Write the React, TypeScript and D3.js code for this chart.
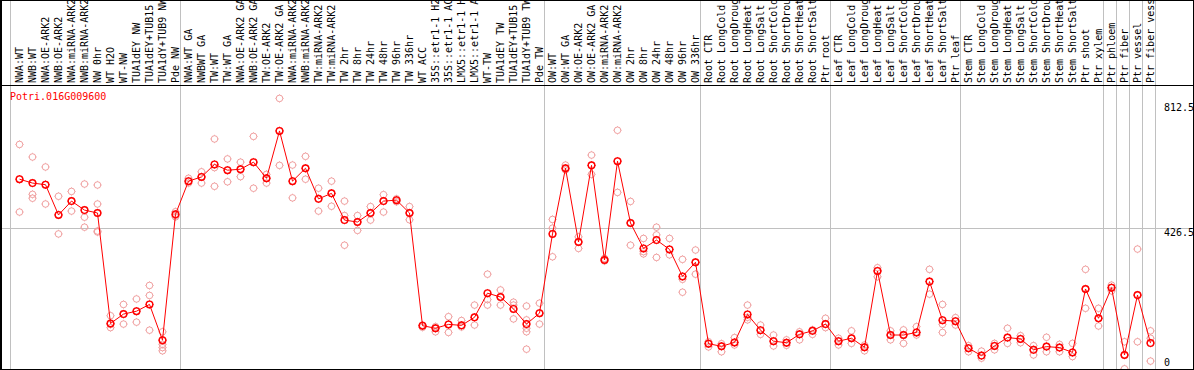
import React, { useEffect, useRef } from 'react';
import * as d3 from 'd3';

const geneId = 'Potri.016G009600';

const samples = [
  'NWA:WT', 'NWB:WT', 'NWA:OE-ARK2', 'NWB:OE-ARK2', 'NWA:miRNA-ARK2', 'NWB:miRNA-ARK2',
  'NW 0hr', 'WT H2O', 'WT-NW', 'TUA1dEY NW', 'TUA1dEY+TUB15 NW', 'TUA1dY+TUB9 NW', 'Pde NW',
  'NWA:WT GA', 'NWBWT GA', 'TW:WT', 'TW:WT GA', 'NWA:OE-ARK2 GA', 'NWB:OE-ARK2 GA',
  'TW:OE-ARK2', 'TW:OE-ARK2 GA', 'NWA:miRNA-ARK2 GA', 'NWB:miRNA-ARK2 GA', 'TW:miRNA-ARK2',
  'TW:miRNA-ARK2 GA', 'TW 2hr', 'TW 8hr', 'TW 24hr', 'TW 48hr', 'TW 96hr', 'TW 336hr',
  'WT ACC', '35S::etr1-1 H2O', '35S::etr1-1 ACC', 'LMX5::etr1-1 H2O', 'LMX5::etr1-1 ACC',
  'WT-TW', 'TUA1dEY TW', 'TUA1dEY+TUB15 TW', 'TUA1dY+TUB9 TW', 'Pde TW',
  'OW:WT', 'OW:WT GA', 'OW:OE-ARK2', 'OW:OE-ARK2 GA', 'OW:miRNA-ARK2', 'OW:miRNA-ARK2 GA',
  'OW 2hr', 'OW 8hr', 'OW 24hr', 'OW 48hr', 'OW 96hr', 'OW 336hr',
  'Root CTR', 'Root LongCold', 'Root LongDrought', 'Root LongHeat', 'Root LongSalt',
  'Root ShortCold', 'Root ShortDrought', 'Root ShortHeat', 'Root ShortSalt', 'Ptr root',
  'Leaf CTR', 'Leaf LongCold', 'Leaf LongDrought', 'Leaf LongHeat', 'Leaf LongSalt',
  'Leaf ShortCold', 'Leaf ShortDrought', 'Leaf ShortHeat', 'Leaf ShortSalt', 'Ptr leaf',
  'Stem CTR', 'Stem LongCold', 'Stem LongDrought', 'Stem LongHeat', 'Stem LongSalt',
  'Stem ShortCold', 'Stem ShortDrought', 'Stem ShortHeat', 'Stem ShortSalt', 'Ptr shoot',
  'Ptr xylem', 'Ptr phloem', 'Ptr fiber', 'Ptr vessel', 'Ptr fiber vessel',
];

// number of samples in each experiment block (separated by gray lines)
const groupSizes = [13, 28, 12, 10, 10, 11, 1, 1, 1, 1];

const means = [
  579, 567, 562, 468, 511, 483, 474, 131, 160, 169, 190, 79, 470,
  573, 586, 625, 607, 610, 632, 582, 729, 573, 613, 518, 535, 452, 446, 474, 511, 514, 474,
  124, 116, 128, 125, 150, 225, 213, 176, 129, 163,
  409, 613, 384, 622, 328, 635, 443, 364, 390, 361, 277, 321,
  68, 60, 72, 159, 110, 76, 71, 97, 108, 129,
  76, 85, 57, 294, 95, 95, 103, 261, 141, 138,
  54, 31, 61, 87, 83, 49, 59, 56, 41, 238, 147,
  242, 33, 219, 70,
];

const replicates = [
  [687, 579, 477], [648, 532, 520], [617, 562, 502], [526, 468, 409], [541, 511, 480],
  [564, 461, 430], [561, 502, 418, 415], [155, 128, 118], [190, 160, 129], [207, 169, 135],
  [249, 218, 110], [105, 79, 66, 56, 46], [478, 466, 462],
  [582, 573, 567], [602, 586, 567], [704, 615, 557], [642, 607, 571], [632, 610, 587],
  [712, 632, 551], [594, 582, 567], [830, 729, 622], [623, 573, 521], [650, 613, 579],
  [551, 518, 480], [573, 535, 495], [511, 466, 374], [466, 446, 420], [494, 474, 452],
  [531, 511, 477], [518, 514, 509], [494, 474, 453], [126, 124, 119], [121, 116, 105],
  [152, 128, 103], [140, 125, 120], [188, 150, 126], [284, 205, 188], [235, 213, 188],
  [197, 188, 145], [185, 142, 116, 105, 51], [194, 163, 129],
  [454, 427, 338], [623, 613, 608], [400, 384, 364], [654, 622, 594], [333, 328, 325],
  [731, 635, 538], [510, 443, 374], [395, 354, 347], [430, 406, 336], [395, 361, 344],
  [330, 268, 228], [359, 321, 284],
  [74, 68, 58], [68, 60, 43], [87, 72, 64], [188, 150, 142], [126, 110, 97],
  [95, 76, 61], [80, 71, 63], [105, 97, 80], [111, 108, 97], [147, 129, 118],
  [85, 76, 64], [108, 85, 69], [64, 57, 46], [304, 294, 276], [108, 95, 80],
  [111, 95, 69], [121, 103, 95], [299, 261, 222], [190, 128, 103], [149, 138, 126],
  [62, 54, 43], [45, 31, 23], [69, 61, 49], [116, 87, 69], [93, 83, 71],
  [62, 49, 33], [88, 59, 43], [66, 56, 43], [69, 41, 28], [299, 238, 178], [178, 147, 123],
  [250, 242, 232], [74, 33, -10], [362, 219, 74], [108, 85, 14],
];

const yTicks = [0, 426.5, 812.5];
const yMax = 853;

const App: React.FC = () => {
  const svgRef = useRef<SVGSVGElement | null>(null);

  useEffect(() => {
    const width = 1194;
    const height = 370;
    const headerBottom = 85;
    const frameBottom = 369;
    const font = '"DejaVu Sans Mono", monospace';

    const svg = d3.select(svgRef.current);
    svg.selectAll('*').remove();

    const x = d3.scaleBand<string>().domain(samples).range([11, 1155]);
    const cx = (i: number) => (x(samples[i]) ?? 0) + 8.5;
    const y = d3.scaleLinear().domain([0, yMax]).range([365.6, 91]);

    svg.append('rect').attr('width', width).attr('height', height).attr('fill', '#fff');

    // block separators (left edge sits one pixel before the first band)
    const ends = Array.from(d3.cumsum(groupSizes));
    const sepX = [x.range()[0] - 0.5].concat(
      ends.map(k => (k < samples.length ? (x(samples[k]) ?? 0) : x.range()[1]) + 0.5)
    );
    svg.append('g')
      .selectAll('line')
      .data(sepX)
      .enter()
      .append('line')
      .attr('x1', d => d).attr('x2', d => d)
      .attr('y1', 0).attr('y2', frameBottom)
      .attr('stroke', '#c0c0c0')
      .attr('stroke-width', 1);

    // mid gridline
    const gy = Math.round(y(yMax / 2)) + 0.5;
    svg.append('line')
      .attr('x1', 0).attr('x2', width)
      .attr('y1', gy).attr('y2', gy)
      .attr('stroke', '#c0c0c0');

    // sample labels in the header, clipped by the frame like the original
    svg.append('clipPath').attr('id', 'hdr')
      .append('rect').attr('x', 1).attr('y', 1).attr('width', width - 2).attr('height', headerBottom - 1);
    svg.append('g')
      .attr('clip-path', 'url(#hdr)')
      .selectAll('text')
      .data(samples)
      .enter()
      .append('text')
      .attr('transform', (_d, i) => `translate(${cx(i) + 3.6},83) rotate(-90)`)
      .attr('font-family', font)
      .attr('font-size', '10px')
      .attr('fill', '#000')
      .text(d => d);

    // gene id
    svg.append('text')
      .attr('x', 10).attr('y', 100)
      .attr('font-family', font)
      .attr('font-size', '10px')
      .attr('fill', '#ff0000')
      .text(geneId);

    // y axis labels on the right
    svg.append('g')
      .selectAll('text')
      .data(yTicks)
      .enter()
      .append('text')
      .attr('x', 1164)
      .attr('y', d => (y(d) + 8 > frameBottom ? y(d) : y(d) + 7.4))
      .attr('font-family', font)
      .attr('font-size', '10px')
      .attr('fill', '#000')
      .text(d => String(d));

    const marker = (
      g: d3.Selection<SVGGElement, unknown, null, undefined>,
      px: number, py: number, color: string, sw: number
    ) => {
      const r = 3.3;
      const m = g.append('g').attr('transform', `translate(${px},${py})`);
      m.append('circle').attr('r', r).attr('fill', 'none').attr('stroke', color).attr('stroke-width', sw);
      const t = r + 0.9;
      [[0, -1], [0, 1], [-1, 0], [1, 0]].forEach(([dx, dy]) => {
        m.append('line')
          .attr('x1', dx * r).attr('y1', dy * r)
          .attr('x2', dx * t).attr('y2', dy * t)
          .attr('stroke', color).attr('stroke-width', 0.8);
      });
    };

    // replicate points
    const reps = svg.append('g') as d3.Selection<SVGGElement, unknown, null, undefined>;
    replicates.forEach((vals, i) => {
      vals.forEach(v => marker(reps, cx(i), y(v), '#f0a0a0', 1));
    });

    // mean line
    const line = d3.line<number>()
      .x((_d, i) => cx(i))
      .y(d => y(d));
    svg.append('path')
      .datum(means)
      .attr('fill', 'none')
      .attr('stroke', '#ff0000')
      .attr('stroke-width', 1)
      .attr('d', line);

    const mg = svg.append('g') as d3.Selection<SVGGElement, unknown, null, undefined>;
    means.forEach((v, i) => marker(mg, cx(i), y(v), '#ff0000', 1.4));

    // frame
    svg.append('line')
      .attr('x1', 0).attr('x2', width)
      .attr('y1', headerBottom + 0.5).attr('y2', headerBottom + 0.5)
      .attr('stroke', '#000');
    svg.append('rect')
      .attr('x', 0.5).attr('y', 0.5)
      .attr('width', width - 1).attr('height', frameBottom)
      .attr('fill', 'none')
      .attr('stroke', '#000');
    svg.append('line')
      .attr('x1', 1.5).attr('x2', 1.5)
      .attr('y1', 0).attr('y2', frameBottom + 1)
      .attr('stroke', '#000');

    return () => {
      svg.selectAll('*').remove();
    };
  }, []);

  return (
    <svg
      ref={svgRef}
      width={1194}
      height={370}
      style={{ position: 'absolute', left: 0, top: 0, display: 'block' }}
    />
  );
};

export default App;
